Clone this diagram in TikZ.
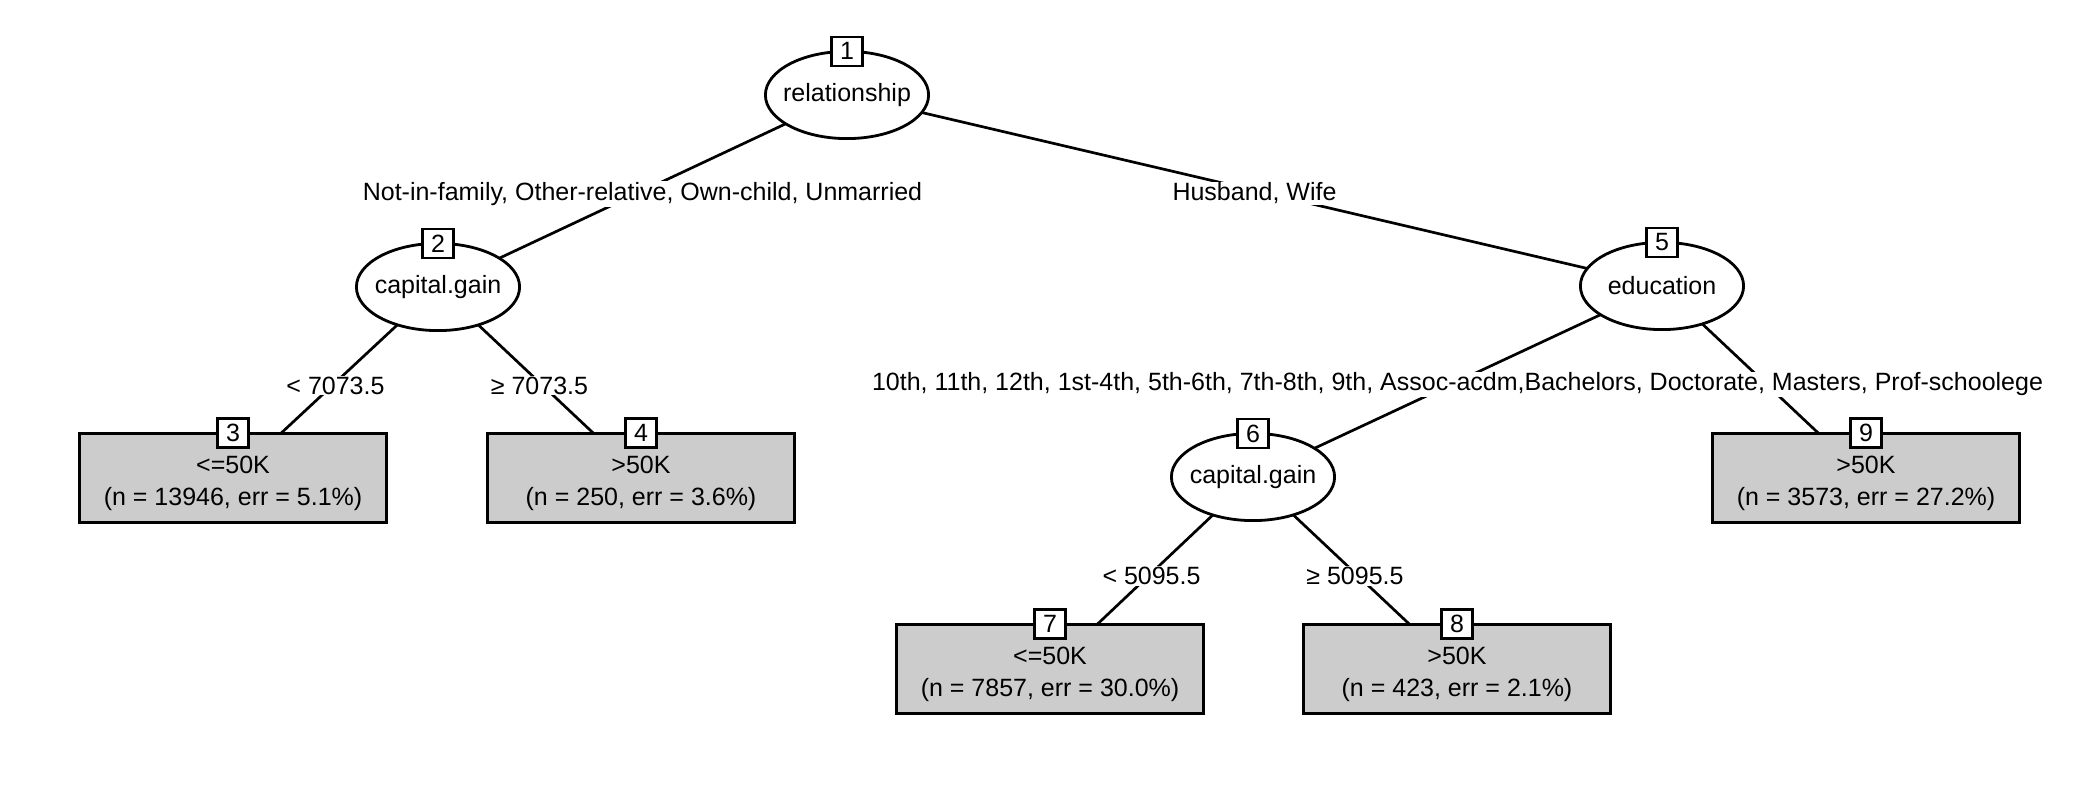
\documentclass[tikz,border=0pt]{standalone}
\usepackage{fontspec}
\setmainfont{Liberation Sans}
\usetikzlibrary{shapes.geometric,backgrounds}
\definecolor{leafgray}{RGB}{204,204,204}
\newcommand{\ztext}[1]{\makebox[0pt][c]{#1}}
\begin{document}
\begin{tikzpicture}[x=0.5pt,y=-0.5pt,
  font=\fontsize{12.5}{16}\selectfont,
  inner/.style={ellipse,draw,line width=1.4pt,fill=white,minimum width=81.6pt,minimum height=43.6pt,inner sep=0pt,outer sep=0pt},
  leaf/.style={rectangle,draw,line width=1.4pt,fill=leafgray,minimum width=153.8pt,inner xsep=0pt,inner ysep=0pt,text height=35.9pt,text depth=8.8pt,outer sep=0pt,align=center},
  idbox/.style={rectangle,draw,line width=1.3pt,fill=white,minimum width=15.5pt,minimum height=14.5pt,inner sep=0pt},
  edge/.style={line width=1.35pt},
  elab/.style={fill=white,inner sep=0.5pt,yshift=-1.5pt}]
\useasboundingbox (0,0) rectangle (2100,795);
% inner nodes
\node[inner] (n1) at (847,95) {\ztext{relationship}};
\node[inner] (n2) at (438,287) {\ztext{capital.gain}};
\node[inner] (n5) at (1662,286) {\ztext{education}};
\node[inner] (n6) at (1253,477) {\ztext{capital.gain}};
% leaves
\node[leaf] (n3) at (233,478) {<=50K\\(n = 13946, err = 5.1\%)};
\node[leaf] (n4) at (641,478) {>50K\\(n = 250, err = 3.6\%)};
\node[leaf] (n9) at (1866,478) {>50K\\(n = 3573, err = 27.2\%)};
\node[leaf] (n7) at (1050,669) {<=50K\\(n = 7857, err = 30.0\%)};
\node[leaf] (n8) at (1457,669) {>50K\\(n = 423, err = 2.1\%)};
% id boxes
\node[idbox] (b1) at (n1.north) {1};
\node[idbox] (b2) at (n2.north) {2};
\node[idbox] (b3) at (n3.north) {3};
\node[idbox] (b4) at (n4.north) {4};
\node[idbox] (b5) at (n5.north) {5};
\node[idbox] (b6) at (n6.north) {6};
\node[idbox] (b7) at (n7.north) {7};
\node[idbox] (b8) at (n8.north) {8};
\node[idbox] (b9) at (n9.north) {9};
% edges
\begin{pgfonlayer}{background}
\draw[edge] (n1.center) -- (n2.center);
\draw[edge] (n1.center) -- (n5.center);
\draw[edge] (n2.center) -- (n3.center);
\draw[edge] (n2.center) -- (n4.center);
\draw[edge] (n5.center) -- (n6.center);
\draw[edge] (n5.center) -- (n9.center);
\draw[edge] (n6.center) -- (n7.center);
\draw[edge] (n6.center) -- (n8.center);
\end{pgfonlayer}
% edge labels
\path (n1.center) -- node[elab] (l2) {Not-in-family, Other-relative, Own-child, Unmarried} (n2.center);
\path (n1.center) -- node[elab] (l5) {Husband, Wife} (n5.center);
\path (n2.center) -- node[elab] (l3) {< 7073.5} (n3.center);
\path (n2.center) -- node[elab] (l4) {≥ 7073.5} (n4.center);
\path (n5.center) -- node[elab] (l6) {10th, 11th, 12th, 1st-4th, 5th-6th, 7th-8th, 9th, Assoc-acdm,Bachelors, Doctorate, Masters, Prof-schoolege} (n6.center);
\path (n6.center) -- node[elab] (l7) {< 5095.5} (n7.center);
\path (n6.center) -- node[elab] (l8) {≥ 5095.5} (n8.center);
\end{tikzpicture}
\end{document}
